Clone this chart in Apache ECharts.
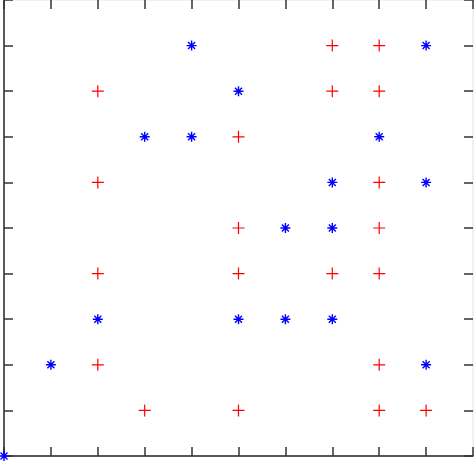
<!DOCTYPE html>
<html><head><meta charset="utf-8">
<script src="https://cdn.jsdelivr.net/npm/echarts@6/dist/echarts.min.js"></script>
<style>html,body{margin:0;padding:0;background:#fff}#c{width:474px;height:462px}</style>
</head><body><div id="c"></div>
<script>
const redPlusX = [7,8,2,7,8,5,2,8,5,8,2,5,7,8,2,8,3,5,8,9];
const redPlusY = [9,9,8,8,8,7,6,6,5,5,4,4,4,4,2,2,1,1,1,1];
const blueStarX = [4,9,5,3,4,8,7,9,6,7,2,5,6,7,1,9,0];
const blueStarY = [9,9,8,7,7,7,6,6,5,5,3,3,3,3,2,2,0];
const ticks = [0,1,2,3,4,5,6,7,8,9,10];

const plusPath = 'path://M0,-6L0,6M-6,0L6,0';
const starPath = 'path://M0,-5L0,5M-5,0L5,0M-3.5,-3.5L3.5,3.5M-3.5,3.5L3.5,-3.5';

const chart = echarts.init(document.getElementById('c'), null, {renderer:'canvas'});
const axBase = (pos, lineColor) => ({
  type:'value', min:0, max:10, interval:1, position:pos,
  axisLine:{show:true, onZero:false, lineStyle:{color:lineColor, width:1.5}},
  axisTick:{show:true, inside:true, length:9, lineStyle:{color:'#333', width:1.5}},
  axisLabel:{show:false}, splitLine:{show:false}
});
chart.setOption({
  animation:false,
  backgroundColor:'#fff',
  grid:{left:4, right:1, top:0, bottom:6, containLabel:false},
  xAxis:[axBase('bottom','#222'), axBase('top','#ececec')],
  yAxis:[axBase('left','#222'), axBase('right','#ececec')],
  series:[
    {type:'scatter', clip:false, z:10, symbol:plusPath, symbolSize:12,
     itemStyle:{color:'rgba(0,0,0,0)', borderColor:'#ff0000', borderWidth:1.2, opacity:1},
     data: redPlusX.map((x,i)=>[x, redPlusY[i]])},
    {type:'scatter', clip:false, z:10, symbol:starPath, symbolSize:10,
     itemStyle:{color:'rgba(0,0,0,0)', borderColor:'#0000ff', borderWidth:1.4, opacity:1},
     data: blueStarX.map((x,i)=>[x, blueStarY[i]])}
  ]
});
</script></body></html>
